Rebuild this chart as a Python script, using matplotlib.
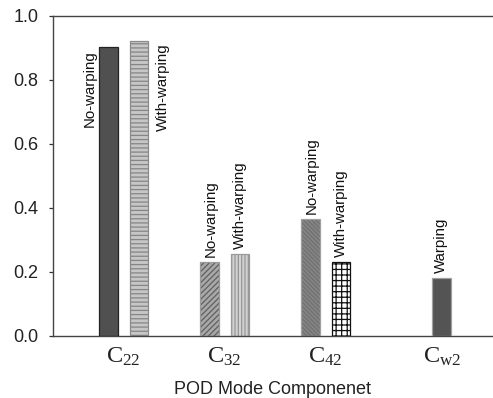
import matplotlib
matplotlib.use("Agg")
import matplotlib.pyplot as plt

plt.rcParams['font.family'] = ['Liberation Sans', 'DejaVu Sans']
plt.rcParams['mathtext.fontset'] = 'custom'
plt.rcParams['mathtext.rm'] = 'Liberation Serif'
plt.rcParams['mathtext.it'] = 'Liberation Serif:italic'
plt.rcParams['hatch.linewidth'] = 0.9

categories = [r'$\mathrm{C}_{22}$', r'$\mathrm{C}_{32}$', r'$\mathrm{C}_{42}$', r'$\mathrm{C}_{\mathrm{w2}}$']
no_warping = [0.903, 0.231, 0.366]
with_warping = [0.922, 0.256, 0.231]
warping = [0.181]
bar_labels_no = ['No-warping', 'No-warping', 'No-warping']
bar_labels_with = ['With-warping', 'With-warping', 'With-warping']
bar_label_w = 'Warping'
yticks = [0.0, 0.2, 0.4, 0.6, 0.8, 1.0]

cat_pos = [0.0, 1.0, 2.0, 3.15]
width = 0.183
off = 0.151

fig = plt.figure(figsize=(4.93, 3.98), dpi=100)
ax = fig.add_axes([0.1065, 0.1558, 0.8935, 0.804])

def hbar(x, h, face, hatch=None, hcol=None, edge='#8a8a8a'):
    ax.bar(x, h, width, color=face, edgecolor=hcol if hcol else face,
           hatch=hatch, linewidth=0, zorder=2)
    ax.bar(x, h, width, fill=False, edgecolor=edge, linewidth=0.9, zorder=3)

# C22
hbar(cat_pos[0] - off, no_warping[0], '#505050', edge='#222222')
hbar(cat_pos[0] + off, with_warping[0], '#c6c6c6', '----', '#858585', '#8a8a8a')
# C32
hbar(cat_pos[1] - off, no_warping[1], '#a8a8a8', '//////', '#606060', '#9a9a9a')
hbar(cat_pos[1] + off, with_warping[1], '#d2d2d2', '|||||', '#969696', '#9a9a9a')
# C42
hbar(cat_pos[2] - off, no_warping[2], '#858585', '\\\\\\\\\\\\\\\\', '#707070', '#a0a0a0')
hbar(cat_pos[2] + off, with_warping[2], 'white', '+++', '#111111', '#111111')
# Cw2
hbar(cat_pos[3], warping[0], '#545454', edge='#a0a0a0')

fs_lab = 10.8
px = 0.72
# C22 labels beside the bars
ax.annotate(bar_labels_no[0], (cat_pos[0] - off, no_warping[0]),
            xytext=(-19 * px, -3 * px), textcoords='offset points',
            rotation=90, ha='center', va='top', fontsize=fs_lab, color='#111')
ax.annotate(bar_labels_with[0], (cat_pos[0] + off, with_warping[0]),
            xytext=(24 * px, -2 * px), textcoords='offset points',
            rotation=90, ha='center', va='top', fontsize=fs_lab, color='#111')
# others above bars
for i in (1, 2):
    ax.annotate(bar_labels_no[i], (cat_pos[i] - off, no_warping[i]),
                xytext=(1 * px, 5 * px), textcoords='offset points',
                rotation=90, ha='center', va='bottom', fontsize=fs_lab, color='#111')
    ax.annotate(bar_labels_with[i], (cat_pos[i] + off, with_warping[i]),
                xytext=(0, 5 * px), textcoords='offset points',
                rotation=90, ha='center', va='bottom', fontsize=fs_lab, color='#111')
ax.annotate(bar_label_w, (cat_pos[3], warping[0]),
            xytext=(-1 * px, 5 * px), textcoords='offset points',
            rotation=90, ha='center', va='bottom', fontsize=fs_lab, color='#111')

ax.set_xlim(-0.703, 3.658)
ax.set_ylim(0, 1.0)
ax.set_yticks(yticks)
ax.set_yticklabels([f'{v:.1f}' for v in yticks], fontsize=13, color='#222')
ax.tick_params(axis='y', length=3, width=0.9, pad=7, color='#333')
ax.set_xticks(cat_pos)
ax.set_xticklabels(categories, fontsize=17.5, color='#222')
ax.tick_params(axis='x', length=0, pad=7)
ax.set_xlabel('POD Mode Componenet', fontsize=13, color='#222', labelpad=9)

for s in ('left', 'bottom', 'top'):
    ax.spines[s].set_color('#444444')
    ax.spines[s].set_linewidth(1.0)
ax.spines['right'].set_visible(False)

fig.savefig('out.png', dpi=100)
